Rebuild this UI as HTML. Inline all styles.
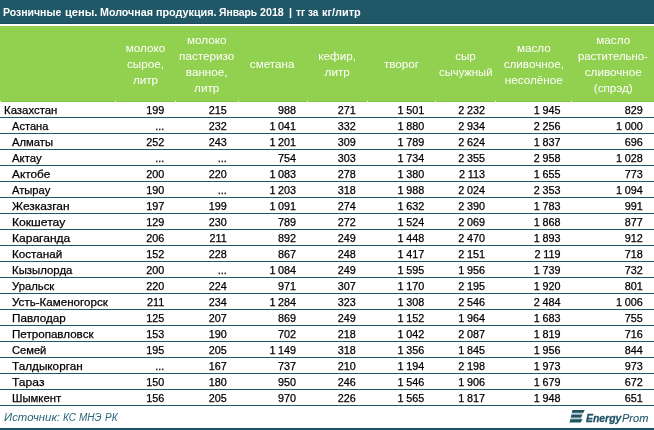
<!DOCTYPE html>
<html lang="ru"><head><meta charset="utf-8"><title>Розничные цены. Молочная продукция</title>
<style>
html,body{margin:0;padding:0;background:#fff;}
body{width:654px;height:430px;position:relative;overflow:hidden;font-family:"Liberation Sans",sans-serif;}
.abs{position:absolute;white-space:nowrap;}
#title{left:0;top:0;width:654px;height:24px;background:#215868;box-shadow:inset 0 -1px 0 #184e5e;}
#title span{position:absolute;top:4.6px;font-weight:bold;font-size:10.75px;line-height:14px;color:#fff;white-space:nowrap;transform-origin:0 50%;}
#head{left:0;top:26px;width:654px;height:76px;box-shadow:inset 0 -1px 0 #82c643;background:#92d050;}
.h{position:absolute;color:#fff;font-size:11.7px;line-height:16px;text-align:center;white-space:nowrap;}
.tick{position:absolute;width:1px;height:1px;background:#fff;top:101px;}
.line{position:absolute;left:0;width:654px;height:1px;background:#215868;}
.n,.v{-webkit-text-stroke:0.25px #000;}
.n{position:absolute;transform-origin:0 50%;font-size:11.5px;line-height:16px;color:#000;white-space:nowrap;}
.v{position:absolute;font-size:10.8px;word-spacing:-0.3px;line-height:16px;color:#000;white-space:nowrap;text-align:right;}
#src span{position:absolute;top:408px;font-style:italic;font-size:11.7px;line-height:18px;color:#2a6478;transform-origin:0 50%;white-space:nowrap;}
#logo{left:564px;top:404px;}
#lt1,#lt2{top:410.3px;font-size:10.8px;line-height:16px;font-style:italic;color:#215868;transform-origin:0 50%;}
#lt1{left:586.3px;font-weight:bold;transform:scaleX(0.965);-webkit-text-stroke:0.3px #1f5565;color:#1f5565;}
#lt2{left:622.3px;transform:scaleX(1.02);-webkit-text-stroke:0.12px #215868;}
#bot{left:0;top:428px;width:654px;height:2px;background:#215868;box-shadow:inset 0 1px 0 #184e5e;}
</style></head><body>
<div class="abs" id="title"><span style="left:3.00px;transform:scaleX(0.976)">Розничные</span> <span style="left:65.00px;transform:scaleX(1.039)">цены.</span> <span style="left:100.00px;transform:scaleX(0.994)">Молочная</span> <span style="left:156.00px;transform:scaleX(1.003)">продукция.</span> <span style="left:218.90px;transform:scaleX(0.959)">Январь</span> <span style="left:260.10px;transform:scaleX(0.996)">2018</span> <span style="left:288.90px;transform:scaleX(1.000)">|</span> <span style="left:295.90px;transform:scaleX(0.947)">тг</span> <span style="left:308.40px;transform:scaleX(0.930)">за</span> <span style="left:321.70px;transform:scaleX(1.016)">кг/литр</span></div>
<div class="abs" id="head"></div>
<div class="h" style="left:115.5px;width:60.0px;top:39.75px">молоко<br>сырое,<br>литр</div>
<div class="h" style="left:175.2px;width:63.0px;top:31.75px">молоко<br>пастеризо<br>ванное,<br>литр</div>
<div class="h" style="left:237.7px;width:69.0px;top:55.75px">сметана</div>
<div class="h" style="left:307.2px;width:60.0px;top:47.75px">кефир,<br>литр</div>
<div class="h" style="left:367.5px;width:68.0px;top:55.75px">творог</div>
<div class="h" style="left:435.5px;width:60.0px;top:47.75px">сыр<br><span style="display:inline-block;transform:scaleX(0.96)">сычужный</span></div>
<div class="h" style="left:495.8px;width:76.0px;top:39.75px">масло<br>сливочное,<br>несолёное</div>
<div class="h" style="left:572.0px;width:82.5px;top:31.75px">масло<br><span style="display:inline-block;transform:scaleX(0.975)">растительно-</span><br>сливочное<br>(спрэд)</div>
<div class="tick" style="left:0px"></div>
<div class="tick" style="left:115px"></div>
<div class="tick" style="left:175px"></div>
<div class="tick" style="left:238px"></div>
<div class="tick" style="left:307px"></div>
<div class="tick" style="left:367px"></div>
<div class="tick" style="left:435px"></div>
<div class="tick" style="left:495px"></div>
<div class="tick" style="left:571px"></div>
<div class="n" style="left:3.6px;top:102px;transform:scaleX(0.991)">Казахстан</div><div class="v" style="left:104.3px;width:60px;top:101.5px">199</div><div class="v" style="left:166.8px;width:60px;top:101.5px">215</div><div class="v" style="left:236.1px;width:60px;top:101.5px">988</div><div class="v" style="left:295.8px;width:60px;top:101.5px">271</div><div class="v" style="left:364.2px;width:60px;top:101.5px">1 501</div><div class="v" style="left:424.9px;width:60px;top:101.5px">2 232</div><div class="v" style="left:500.4px;width:60px;top:101.5px">1 945</div><div class="v" style="left:582.8px;width:60px;top:101.5px">829</div>
<div class="line" style="top:117px"></div>
<div class="n" style="left:12.2px;top:118px;transform:scaleX(0.965)">Астана</div><div class="v" style="left:104.3px;width:60px;top:117.5px">...</div><div class="v" style="left:166.8px;width:60px;top:117.5px">232</div><div class="v" style="left:236.1px;width:60px;top:117.5px">1 041</div><div class="v" style="left:295.8px;width:60px;top:117.5px">332</div><div class="v" style="left:364.2px;width:60px;top:117.5px">1 880</div><div class="v" style="left:424.9px;width:60px;top:117.5px">2 934</div><div class="v" style="left:500.4px;width:60px;top:117.5px">2 256</div><div class="v" style="left:582.8px;width:60px;top:117.5px">1 000</div>
<div class="line" style="top:133px"></div>
<div class="n" style="left:12.2px;top:134px;transform:scaleX(0.976)">Алматы</div><div class="v" style="left:104.3px;width:60px;top:133.5px">252</div><div class="v" style="left:166.8px;width:60px;top:133.5px">243</div><div class="v" style="left:236.1px;width:60px;top:133.5px">1 201</div><div class="v" style="left:295.8px;width:60px;top:133.5px">309</div><div class="v" style="left:364.2px;width:60px;top:133.5px">1 789</div><div class="v" style="left:424.9px;width:60px;top:133.5px">2 624</div><div class="v" style="left:500.4px;width:60px;top:133.5px">1 837</div><div class="v" style="left:582.8px;width:60px;top:133.5px">696</div>
<div class="line" style="top:149px"></div>
<div class="n" style="left:12.2px;top:150px;transform:scaleX(0.99)">Актау</div><div class="v" style="left:104.3px;width:60px;top:149.5px">...</div><div class="v" style="left:166.8px;width:60px;top:149.5px">...</div><div class="v" style="left:236.1px;width:60px;top:149.5px">754</div><div class="v" style="left:295.8px;width:60px;top:149.5px">303</div><div class="v" style="left:364.2px;width:60px;top:149.5px">1 734</div><div class="v" style="left:424.9px;width:60px;top:149.5px">2 355</div><div class="v" style="left:500.4px;width:60px;top:149.5px">2 958</div><div class="v" style="left:582.8px;width:60px;top:149.5px">1 028</div>
<div class="line" style="top:165px"></div>
<div class="n" style="left:12.2px;top:166px;transform:scaleX(1.027)">Актобе</div><div class="v" style="left:104.3px;width:60px;top:165.5px">200</div><div class="v" style="left:166.8px;width:60px;top:165.5px">220</div><div class="v" style="left:236.1px;width:60px;top:165.5px">1 083</div><div class="v" style="left:295.8px;width:60px;top:165.5px">278</div><div class="v" style="left:364.2px;width:60px;top:165.5px">1 380</div><div class="v" style="left:424.9px;width:60px;top:165.5px">2 113</div><div class="v" style="left:500.4px;width:60px;top:165.5px">1 655</div><div class="v" style="left:582.8px;width:60px;top:165.5px">773</div>
<div class="line" style="top:181px"></div>
<div class="n" style="left:12.2px;top:182px;transform:scaleX(0.972)">Атырау</div><div class="v" style="left:104.3px;width:60px;top:181.5px">190</div><div class="v" style="left:166.8px;width:60px;top:181.5px">...</div><div class="v" style="left:236.1px;width:60px;top:181.5px">1 203</div><div class="v" style="left:295.8px;width:60px;top:181.5px">318</div><div class="v" style="left:364.2px;width:60px;top:181.5px">1 988</div><div class="v" style="left:424.9px;width:60px;top:181.5px">2 024</div><div class="v" style="left:500.4px;width:60px;top:181.5px">2 353</div><div class="v" style="left:582.8px;width:60px;top:181.5px">1 094</div>
<div class="line" style="top:197px"></div>
<div class="n" style="left:12.2px;top:198px;transform:scaleX(1.039)">Жезказган</div><div class="v" style="left:104.3px;width:60px;top:197.5px">197</div><div class="v" style="left:166.8px;width:60px;top:197.5px">199</div><div class="v" style="left:236.1px;width:60px;top:197.5px">1 091</div><div class="v" style="left:295.8px;width:60px;top:197.5px">274</div><div class="v" style="left:364.2px;width:60px;top:197.5px">1 632</div><div class="v" style="left:424.9px;width:60px;top:197.5px">2 390</div><div class="v" style="left:500.4px;width:60px;top:197.5px">1 783</div><div class="v" style="left:582.8px;width:60px;top:197.5px">991</div>
<div class="line" style="top:213px"></div>
<div class="n" style="left:12.2px;top:214px;transform:scaleX(1.055)">Кокшетау</div><div class="v" style="left:104.3px;width:60px;top:213.5px">129</div><div class="v" style="left:166.8px;width:60px;top:213.5px">230</div><div class="v" style="left:236.1px;width:60px;top:213.5px">789</div><div class="v" style="left:295.8px;width:60px;top:213.5px">272</div><div class="v" style="left:364.2px;width:60px;top:213.5px">1 524</div><div class="v" style="left:424.9px;width:60px;top:213.5px">2 069</div><div class="v" style="left:500.4px;width:60px;top:213.5px">1 868</div><div class="v" style="left:582.8px;width:60px;top:213.5px">877</div>
<div class="line" style="top:229px"></div>
<div class="n" style="left:12.2px;top:230px;transform:scaleX(1.047)">Караганда</div><div class="v" style="left:104.3px;width:60px;top:229.5px">206</div><div class="v" style="left:166.8px;width:60px;top:229.5px">211</div><div class="v" style="left:236.1px;width:60px;top:229.5px">892</div><div class="v" style="left:295.8px;width:60px;top:229.5px">249</div><div class="v" style="left:364.2px;width:60px;top:229.5px">1 448</div><div class="v" style="left:424.9px;width:60px;top:229.5px">2 470</div><div class="v" style="left:500.4px;width:60px;top:229.5px">1 893</div><div class="v" style="left:582.8px;width:60px;top:229.5px">912</div>
<div class="line" style="top:245px"></div>
<div class="n" style="left:12.2px;top:246px;transform:scaleX(1.014)">Костанай</div><div class="v" style="left:104.3px;width:60px;top:245.5px">152</div><div class="v" style="left:166.8px;width:60px;top:245.5px">228</div><div class="v" style="left:236.1px;width:60px;top:245.5px">867</div><div class="v" style="left:295.8px;width:60px;top:245.5px">248</div><div class="v" style="left:364.2px;width:60px;top:245.5px">1 417</div><div class="v" style="left:424.9px;width:60px;top:245.5px">2 151</div><div class="v" style="left:500.4px;width:60px;top:245.5px">2 119</div><div class="v" style="left:582.8px;width:60px;top:245.5px">718</div>
<div class="line" style="top:261px"></div>
<div class="n" style="left:12.2px;top:262px;transform:scaleX(0.99)">Кызылорда</div><div class="v" style="left:104.3px;width:60px;top:261.5px">200</div><div class="v" style="left:166.8px;width:60px;top:261.5px">...</div><div class="v" style="left:236.1px;width:60px;top:261.5px">1 084</div><div class="v" style="left:295.8px;width:60px;top:261.5px">249</div><div class="v" style="left:364.2px;width:60px;top:261.5px">1 595</div><div class="v" style="left:424.9px;width:60px;top:261.5px">1 956</div><div class="v" style="left:500.4px;width:60px;top:261.5px">1 739</div><div class="v" style="left:582.8px;width:60px;top:261.5px">732</div>
<div class="line" style="top:277px"></div>
<div class="n" style="left:12.2px;top:278px;transform:scaleX(0.982)">Уральск</div><div class="v" style="left:104.3px;width:60px;top:277.5px">220</div><div class="v" style="left:166.8px;width:60px;top:277.5px">224</div><div class="v" style="left:236.1px;width:60px;top:277.5px">971</div><div class="v" style="left:295.8px;width:60px;top:277.5px">307</div><div class="v" style="left:364.2px;width:60px;top:277.5px">1 170</div><div class="v" style="left:424.9px;width:60px;top:277.5px">2 195</div><div class="v" style="left:500.4px;width:60px;top:277.5px">1 920</div><div class="v" style="left:582.8px;width:60px;top:277.5px">801</div>
<div class="line" style="top:293px"></div>
<div class="n" style="left:12.2px;top:294px;transform:scaleX(1.008)">Усть-Каменогорск</div><div class="v" style="left:104.3px;width:60px;top:293.5px">211</div><div class="v" style="left:166.8px;width:60px;top:293.5px">234</div><div class="v" style="left:236.1px;width:60px;top:293.5px">1 284</div><div class="v" style="left:295.8px;width:60px;top:293.5px">323</div><div class="v" style="left:364.2px;width:60px;top:293.5px">1 308</div><div class="v" style="left:424.9px;width:60px;top:293.5px">2 546</div><div class="v" style="left:500.4px;width:60px;top:293.5px">2 484</div><div class="v" style="left:582.8px;width:60px;top:293.5px">1 006</div>
<div class="line" style="top:309px"></div>
<div class="n" style="left:12.2px;top:310px;transform:scaleX(1.015)">Павлодар</div><div class="v" style="left:104.3px;width:60px;top:309.5px">125</div><div class="v" style="left:166.8px;width:60px;top:309.5px">207</div><div class="v" style="left:236.1px;width:60px;top:309.5px">869</div><div class="v" style="left:295.8px;width:60px;top:309.5px">249</div><div class="v" style="left:364.2px;width:60px;top:309.5px">1 152</div><div class="v" style="left:424.9px;width:60px;top:309.5px">1 964</div><div class="v" style="left:500.4px;width:60px;top:309.5px">1 683</div><div class="v" style="left:582.8px;width:60px;top:309.5px">755</div>
<div class="line" style="top:325px"></div>
<div class="n" style="left:12.2px;top:326px;transform:scaleX(1.009)">Петропавловск</div><div class="v" style="left:104.3px;width:60px;top:325.5px">153</div><div class="v" style="left:166.8px;width:60px;top:325.5px">190</div><div class="v" style="left:236.1px;width:60px;top:325.5px">702</div><div class="v" style="left:295.8px;width:60px;top:325.5px">218</div><div class="v" style="left:364.2px;width:60px;top:325.5px">1 042</div><div class="v" style="left:424.9px;width:60px;top:325.5px">2 087</div><div class="v" style="left:500.4px;width:60px;top:325.5px">1 819</div><div class="v" style="left:582.8px;width:60px;top:325.5px">716</div>
<div class="line" style="top:341px"></div>
<div class="n" style="left:12.2px;top:342px;transform:scaleX(0.968)">Семей</div><div class="v" style="left:104.3px;width:60px;top:341.5px">195</div><div class="v" style="left:166.8px;width:60px;top:341.5px">205</div><div class="v" style="left:236.1px;width:60px;top:341.5px">1 149</div><div class="v" style="left:295.8px;width:60px;top:341.5px">318</div><div class="v" style="left:364.2px;width:60px;top:341.5px">1 356</div><div class="v" style="left:424.9px;width:60px;top:341.5px">1 845</div><div class="v" style="left:500.4px;width:60px;top:341.5px">1 956</div><div class="v" style="left:582.8px;width:60px;top:341.5px">844</div>
<div class="line" style="top:357px"></div>
<div class="n" style="left:12.2px;top:358px;transform:scaleX(1.022)">Талдыкорган</div><div class="v" style="left:104.3px;width:60px;top:357.5px">...</div><div class="v" style="left:166.8px;width:60px;top:357.5px">167</div><div class="v" style="left:236.1px;width:60px;top:357.5px">737</div><div class="v" style="left:295.8px;width:60px;top:357.5px">210</div><div class="v" style="left:364.2px;width:60px;top:357.5px">1 194</div><div class="v" style="left:424.9px;width:60px;top:357.5px">2 198</div><div class="v" style="left:500.4px;width:60px;top:357.5px">1 973</div><div class="v" style="left:582.8px;width:60px;top:357.5px">973</div>
<div class="line" style="top:373px"></div>
<div class="n" style="left:12.2px;top:374px;transform:scaleX(1.052)">Тараз</div><div class="v" style="left:104.3px;width:60px;top:373.5px">150</div><div class="v" style="left:166.8px;width:60px;top:373.5px">180</div><div class="v" style="left:236.1px;width:60px;top:373.5px">950</div><div class="v" style="left:295.8px;width:60px;top:373.5px">246</div><div class="v" style="left:364.2px;width:60px;top:373.5px">1 546</div><div class="v" style="left:424.9px;width:60px;top:373.5px">1 906</div><div class="v" style="left:500.4px;width:60px;top:373.5px">1 679</div><div class="v" style="left:582.8px;width:60px;top:373.5px">672</div>
<div class="line" style="top:389px"></div>
<div class="n" style="left:12.2px;top:390px;transform:scaleX(0.986)">Шымкент</div><div class="v" style="left:104.3px;width:60px;top:389.5px">156</div><div class="v" style="left:166.8px;width:60px;top:389.5px">205</div><div class="v" style="left:236.1px;width:60px;top:389.5px">970</div><div class="v" style="left:295.8px;width:60px;top:389.5px">226</div><div class="v" style="left:364.2px;width:60px;top:389.5px">1 565</div><div class="v" style="left:424.9px;width:60px;top:389.5px">1 817</div><div class="v" style="left:500.4px;width:60px;top:389.5px">1 948</div><div class="v" style="left:582.8px;width:60px;top:389.5px">651</div>
<div class="line" style="top:405px"></div>
<div id="src"><span style="left:3.7px;transform:scaleX(0.972)">Источник:</span> <span style="left:62.9px;transform:scaleX(0.85)">КС</span> <span style="left:78.8px;transform:scaleX(0.855)">МНЭ</span> <span style="left:105.1px;transform:scaleX(0.85)">РК</span></div>
<svg class="abs" id="logo" width="30" height="24" viewBox="564 404 30 24"><g fill="#b9cad0"><polygon points="571.8,412.5 583.2,412.5 582.4,415 571.3,415"/><polygon points="570.7,417.3 581.2,417.3 582.3,419.5 570.3,419.5"/></g><g fill="#1d5262"><polygon points="572.4,410 584.7,410 583.3,412.8 571.75,412.8"/><polygon points="571.37,414.7 582.4,414.7 581.1,417.6 570.67,417.6"/><polygon points="570.35,419.2 582.4,419.2 580.7,422.4 570,422.4 569.2,423.9 569.6,422.4"/></g></svg>
<div class="abs" id="lt1">Energy</div><div class="abs" id="lt2">Prom</div>
<div class="abs" id="bot"></div>
</body></html>
